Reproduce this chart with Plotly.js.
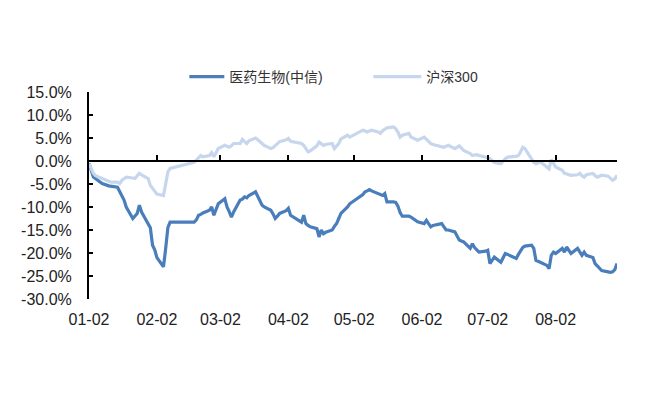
<!DOCTYPE html>
<html>
<head>
<meta charset="utf-8">
<script src="https://cdn.plot.ly/plotly-3.0.1.min.js"></script>
<style>html,body{margin:0;padding:0;background:#fff;}#chart{width:661px;height:410px;}</style>
</head>
<body>
<div id="chart"></div>
<script>
// ---- data (percent, cumulative return since start of year) ----
const pharmaName = '医药生物(中信)';
const csiName = '沪深300';

const pharmaDates = ['01-02','01-04','01-08','01-11','01-15','01-17','01-18','01-19','01-22','01-24','01-25','01-26','01-29','01-30','01-31','02-01','02-02','02-05','02-06','02-07','02-08','02-19','02-20','02-21','02-22','02-23','02-26','02-27','02-28','02-29','03-01','03-04','03-05','03-06','03-07','03-08','03-11','03-12','03-13','03-14','03-15','03-18','03-19','03-20','03-21','03-22','03-25','03-26','03-27','03-28','03-29','04-01','04-02','04-03','04-08','04-09','04-10','04-11','04-12','04-15','04-16','04-17','04-18','04-19','04-22','04-23','04-24','04-25','04-26','04-29','04-30','05-06','05-07','05-08','05-09','05-10','05-13','05-14','05-15','05-16','05-17','05-20','05-21','05-22','05-23','05-24','05-27','05-28','05-29','05-30','05-31','06-03','06-04','06-05','06-06','06-07','06-11','06-12','06-13','06-14','06-17','06-18','06-19','06-20','06-21','06-24','06-25','06-26','06-27','06-28','07-01','07-02','07-03','07-04','07-05','07-08','07-09','07-10','07-11','07-12','07-15','07-16','07-17','07-18','07-19','07-22','07-23','07-24','07-25','07-26','07-29','07-30','07-31','08-01','08-02','08-05','08-06','08-07','08-08','08-09','08-12','08-13','08-14','08-15','08-16','08-19','08-20','08-21','08-22','08-23','08-26','08-27','08-28','08-29','08-30'];
const pharmaValues = [-0.5,-3.5,-4.9,-5.4,-5.7,-7.5,-8.5,-10.0,-12.5,-11.4,-9.6,-11.1,-13.5,-14.5,-18.3,-19.3,-21.0,-23.0,-19.0,-14.5,-13.3,-13.3,-12.8,-11.8,-11.6,-11.3,-10.7,-10.0,-11.8,-10.3,-9.3,-8.2,-10.0,-11.0,-12.2,-11.1,-8.5,-8.3,-7.8,-8.0,-7.5,-6.7,-7.8,-8.6,-9.6,-10.0,-10.7,-11.5,-12.5,-12.0,-11.4,-10.8,-10.3,-11.8,-13.3,-11.8,-13.6,-14.0,-14.3,-14.7,-16.5,-15.0,-15.8,-15.5,-15.0,-14.2,-13.6,-12.5,-11.4,-10.0,-9.3,-7.3,-6.7,-6.5,-6.2,-6.5,-7.1,-7.3,-7.5,-7.1,-8.9,-8.9,-9.0,-9.8,-11.2,-12.0,-12.0,-12.2,-12.5,-12.9,-13.2,-13.6,-12.9,-13.6,-14.3,-14.0,-13.6,-14.3,-15.0,-15.0,-15.4,-16.3,-17.2,-17.4,-17.6,-19.0,-18.0,-18.8,-19.4,-19.8,-19.6,-19.4,-22.3,-21.5,-20.9,-22.0,-20.9,-20.1,-20.3,-20.5,-21.2,-20.3,-19.4,-18.8,-18.5,-18.3,-19.0,-21.6,-21.8,-22.0,-22.7,-23.4,-20.5,-19.8,-20.1,-19.0,-19.8,-18.7,-19.5,-20.1,-19.0,-19.8,-20.5,-19.8,-20.5,-21.0,-22.3,-22.8,-23.3,-23.8,-24.1,-24.2,-24.1,-23.6,-22.3];

const csiDates = ['01-02','01-03','01-04','01-05','01-08','01-09','01-10','01-11','01-12','01-15','01-16','01-17','01-18','01-19','01-22','01-23','01-24','01-25','01-26','01-29','01-30','01-31','02-01','02-02','02-05','02-06','02-07','02-08','02-19','02-20','02-21','02-22','02-23','02-26','02-27','02-28','02-29','03-01','03-04','03-05','03-06','03-07','03-08','03-11','03-12','03-13','03-14','03-15','03-18','03-19','03-20','03-21','03-22','03-25','03-26','03-27','03-28','03-29','04-01','04-02','04-03','04-08','04-09','04-10','04-11','04-12','04-15','04-16','04-17','04-18','04-19','04-22','04-23','04-24','04-25','04-26','04-29','04-30','05-06','05-07','05-08','05-09','05-10','05-13','05-14','05-15','05-16','05-17','05-20','05-21','05-22','05-23','05-24','05-27','05-28','05-29','05-30','05-31','06-03','06-04','06-05','06-06','06-07','06-11','06-12','06-13','06-14','06-17','06-18','06-19','06-20','06-21','06-24','06-25','06-26','06-27','06-28','07-01','07-02','07-03','07-04','07-05','07-08','07-09','07-10','07-11','07-12','07-15','07-16','07-17','07-18','07-19','07-22','07-23','07-24','07-25','07-26','07-29','07-30','07-31','08-01','08-02','08-05','08-06','08-07','08-08','08-09','08-12','08-13','08-14','08-15','08-16','08-19','08-20','08-21','08-22','08-23','08-26','08-27','08-28','08-29','08-30'];
const csiValues = [-0.6,-1.5,-2.7,-3.2,-3.8,-4.0,-4.2,-4.4,-4.6,-4.6,-4.9,-4.2,-3.8,-3.5,-3.7,-3.8,-3.2,-2.7,-3.0,-3.8,-5.3,-6.0,-6.7,-7.2,-7.5,-5.0,-2.4,-1.6,-0.3,0.2,0.6,1.2,0.9,1.2,1.8,0.9,1.8,2.7,3.4,3.2,3.0,3.3,3.8,3.8,4.7,4.2,3.8,4.4,5.0,4.6,4.1,3.8,3.4,2.7,2.9,3.3,3.8,4.2,4.6,4.9,4.3,3.8,3.4,2.8,2.0,2.2,3.3,4.1,3.7,3.4,3.6,3.8,2.7,3.2,3.8,4.8,5.6,5.2,6.7,6.5,6.3,6.5,6.7,6.3,6.0,6.6,7.0,7.2,7.4,7.0,6.3,5.2,5.6,6.0,5.2,4.9,4.6,4.5,5.2,4.7,4.1,3.8,3.6,3.2,3.0,3.2,3.4,2.7,3.0,3.3,2.8,2.3,1.6,1.2,1.3,1.4,1.2,0.9,0.7,0.5,0.0,-0.35,-0.6,0.0,0.5,0.8,0.9,1.0,1.2,2.0,3.0,2.7,0.5,-0.3,-0.6,-0.4,-0.2,-1.3,-1.7,0.3,-0.4,-1.3,-2.0,-2.7,-2.8,-3.0,-3.1,-3.0,-2.7,-3.2,-3.5,-3.0,-2.7,-3.2,-3.5,-3.3,-3.1,-3.3,-3.7,-4.2,-3.9,-3.1];

const year = '2024-';
const xTickVals = ['01-02','02-02','03-02','04-02','05-02','06-02','07-02','08-02'];
const xTickText = ['01-02','02-02','03-02','04-02','05-02','06-02','07-02','08-02'];
const yTickVals = [-30,-25,-20,-15,-10,-5,0,5,10,15];
const yTickText = ['-30.0%','-25.0%','-20.0%','-15.0%','-10.0%','-5.0%','0.0%','5.0%','10.0%','15.0%'];
const xStart = '01-02', xEnd = '08-30';
const yMin = -30, yMax = 15;

// ---- chart ----
const toDate = d => year + d;
const latin = 'Liberation Sans, Arial, sans-serif';
const cjk = 'Liberation Sans, Noto Sans CJK SC, sans-serif';

const traces = [
  {x: pharmaDates.map(toDate), y: pharmaValues, name: pharmaName, type: 'scatter', mode: 'lines',
   line: {color: '#4a7ebb', width: 3.2}, xaxis: 'x', yaxis: 'y'},
  {x: csiDates.map(toDate), y: csiValues, name: csiName, type: 'scatter', mode: 'lines',
   line: {color: '#c6d6ec', width: 3.2}, xaxis: 'x2', yaxis: 'y'}
];

const xr = [toDate(xStart), toDate(xEnd)];
const layout = {
  width: 661, height: 410,
  margin: {l: 89, r: 44, t: 92, b: 111},
  paper_bgcolor: '#fff', plot_bgcolor: '#fff',
  showlegend: true,
  legend: {orientation: 'h', x: 0.19, xanchor: 'left', y: 1.072, yanchor: 'middle', entrywidth: 152,
           font: {family: cjk, size: 14, color: '#333'}, traceorder: 'normal'},
  xaxis: {type: 'date', range: xr, tickmode: 'array', tickvals: xTickVals.map(toDate), ticktext: xTickText,
          showline: false, showgrid: false, zeroline: false, ticks: '', ticklabelstandoff: 9,
          tickfont: {family: latin, size: 16, color: '#222'}},
  xaxis2: {type: 'date', range: xr, overlaying: 'x', anchor: 'free', position: (0 - yMin) / (yMax - yMin), side: 'bottom',
           tickmode: 'array', tickvals: xTickVals.map(toDate), showticklabels: false,
           showline: true, linecolor: '#000', linewidth: 2, ticks: 'inside', ticklen: 5, tickwidth: 2, tickcolor: '#000',
           showgrid: false, zeroline: false},
  yaxis: {range: [yMin, yMax], tickmode: 'array', tickvals: yTickVals, ticktext: yTickText,
          showline: true, linecolor: '#000', linewidth: 2, ticks: 'inside', ticklen: 4, tickwidth: 2, tickcolor: '#000',
          showgrid: false, zeroline: false, ticklabelstandoff: 12,
          tickfont: {family: latin, size: 16, color: '#222'}}
};

Plotly.newPlot('chart', traces, layout, {displayModeBar: false, staticPlot: true}).then(gd => {
  // lengthen the legend line samples to match the reference swatch length
  gd.querySelectorAll('.legend .legendlines path').forEach(p => p.setAttribute('d', 'M-13,0h48'));
});
</script>
</body>
</html>
